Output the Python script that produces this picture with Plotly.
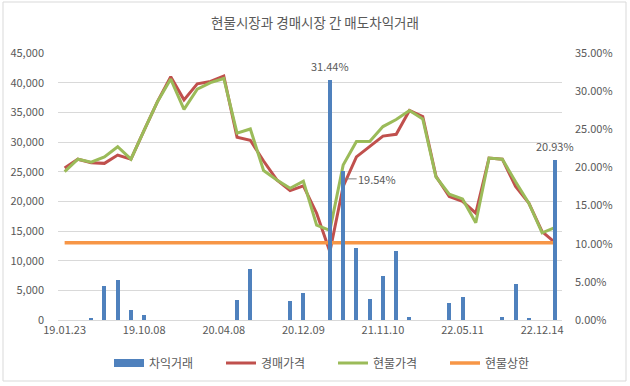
import plotly.graph_objects as go

# ---- data ----
n_points = 38
tick_labels = ["19.01.23", "19.10.08", "20.04.08", "20.12.09", "21.11.10", "22.05.11", "22.12.14"]
tick_every = 6

arbitrage_pct = [0, 0, 0.22, 4.5, 5.2, 1.3, 0.66, 0, 0, 0, 0, 0, 0, 2.6, 6.65, 0, 0, 2.55, 3.5, 0,
                 31.44, 19.54, 9.4, 2.7, 5.8, 9.1, 0.35, 0, 0, 2.2, 3.0, 0, 0, 0.35, 4.7, 0.22, 0, 20.93]
auction_price = [25600, 27100, 26500, 26400, 27800, 27100, 32000, 36800, 41000, 37100, 39800, 40200, 41100,
                 30800, 30300, 26800, 23600, 21800, 22600, 18000, 11500, 22500, 27500, 29300, 31000, 31300,
                 35300, 34300, 24200, 20800, 20000, 18000, 27300, 27100, 22500, 19700, 14900, 13000]
spot_price = [25000, 27100, 26600, 27500, 29200, 27100, 32000, 36800, 40600, 35500, 38900, 40000, 40700,
              31500, 32200, 25200, 23600, 22200, 23400, 16000, 15100, 26100, 30100, 30100, 32600, 33800,
              35300, 33900, 24100, 21200, 20400, 16400, 27300, 27100, 23300, 19700, 14700, 15600]
spot_cap = [13000, 13000, 13000, 13000, 13000, 13000, 13000, 13000, 13000, 13000, 13000, 13000, 13000,
            13000, 13000, 13000, 13000, 13000, 13000, 13000, 13000, 13000, 13000, 13000, 13000, 13000,
            13000, 13000, 13000, 13000, 13000, 13000, 13000, 13000, 13000, 13000, 13000, 13000]

x = list(range(n_points))
tickvals = list(range(0, n_points, tick_every))

FONT = "Noto Sans CJK KR"
TXT = "#595959"
GRID = "#D9D9D9"
BLUE, RED, GREEN, ORANGE = "#4F81BD", "#C0504D", "#9BBB59", "#F79646"

fig = go.Figure()

# legend-only entry giving the wide bar swatch
fig.add_trace(go.Scatter(x=[None], y=[None], name="차익거래", mode="lines",
                         line=dict(color=BLUE, width=8), yaxis="y", legendrank=1))
fig.add_trace(go.Scatter(x=x, y=auction_price, name="경매가격", mode="lines",
                         line=dict(color=RED, width=3), yaxis="y", legendrank=2))
fig.add_trace(go.Scatter(x=x, y=spot_price, name="현물가격", mode="lines",
                         line=dict(color=GREEN, width=3), yaxis="y", legendrank=3))
fig.add_trace(go.Scatter(x=x, y=spot_cap, name="현물상한", mode="lines",
                         line=dict(color=ORANGE, width=3.5), yaxis="y", legendrank=4))
fig.add_trace(go.Bar(x=x, y=arbitrage_pct, name="차익거래", marker=dict(color=BLUE, line=dict(width=0)),
                     width=0.3, yaxis="y2", showlegend=False))

# data labels
for idx in (20, 37):
    fig.add_annotation(x=idx, y=arbitrage_pct[idx], xref="x", yref="y2", text=f"{arbitrage_pct[idx]:.2f}%",
                       showarrow=False, yanchor="bottom", yshift=4,
                       font=dict(family=FONT, size=11, color=TXT))
fig.add_annotation(x=21, y=18.5, xref="x", yref="y2", text=f"{arbitrage_pct[21]:.2f}%",
                   showarrow=True, arrowhead=0, arrowwidth=1, arrowcolor="#7F7F7F",
                   ax=34, ay=0, standoff=3,
                   font=dict(family=FONT, size=11, color=TXT))

L, R, T, B = 58, 68, 53, 66
W, H = 630, 386
pw, ph = W - L - R, H - T - B

fig.add_shape(type="rect", xref="paper", yref="paper",
              x0=(3 - L) / pw, x1=(626 - L) / pw,
              y0=(H - B - 381) / ph, y1=(H - B - 2) / ph,
              line=dict(color=GRID, width=1), fillcolor="rgba(0,0,0,0)", layer="below")

fig.update_layout(
    width=W, height=H,
    margin=dict(l=L, r=R, t=T, b=B, autoexpand=False),
    paper_bgcolor="white", plot_bgcolor="white",
    font=dict(family=FONT, size=11, color=TXT),
    title=dict(text="현물시장과 경매시장 간 매도차익거래", x=0.5, xanchor="center",
               y=1 - 23 / H, yanchor="middle", font=dict(family=FONT, size=13.5, color=TXT)),
    xaxis=dict(range=[-0.5, n_points - 0.5], tickvals=tickvals, ticktext=tick_labels,
               showgrid=False, showline=True, linecolor=GRID, linewidth=1, ticks="",
               zeroline=False, tickfont=dict(size=11, color=TXT)),
    yaxis=dict(range=[0, 45000], dtick=5000, tickformat=",", showgrid=True, gridcolor=GRID,
               gridwidth=1, zeroline=False, ticks="", ticklabelstandoff=13,
               tickfont=dict(size=11, color=TXT)),
    yaxis2=dict(range=[0, 35], dtick=5, tickformat=".2f", ticksuffix="%", overlaying="y", side="right",
                showgrid=False, zeroline=False, ticks="", ticklabelstandoff=12,
                tickfont=dict(size=11, color=TXT)),
    legend=dict(orientation="h", x=(333 - L) / pw, xanchor="center", y=(H - B - 363) / ph,
                yanchor="middle", font=dict(family=FONT, size=12, color=TXT),
                itemwidth=30, entrywidth=67, entrywidthmode="pixels"),
    bargap=0,
    showlegend=True,
)

fig.write_html("out.html", config={"displayModeBar": False},
               post_script="document.body.style.margin='0';document.body.style.padding='0';")
